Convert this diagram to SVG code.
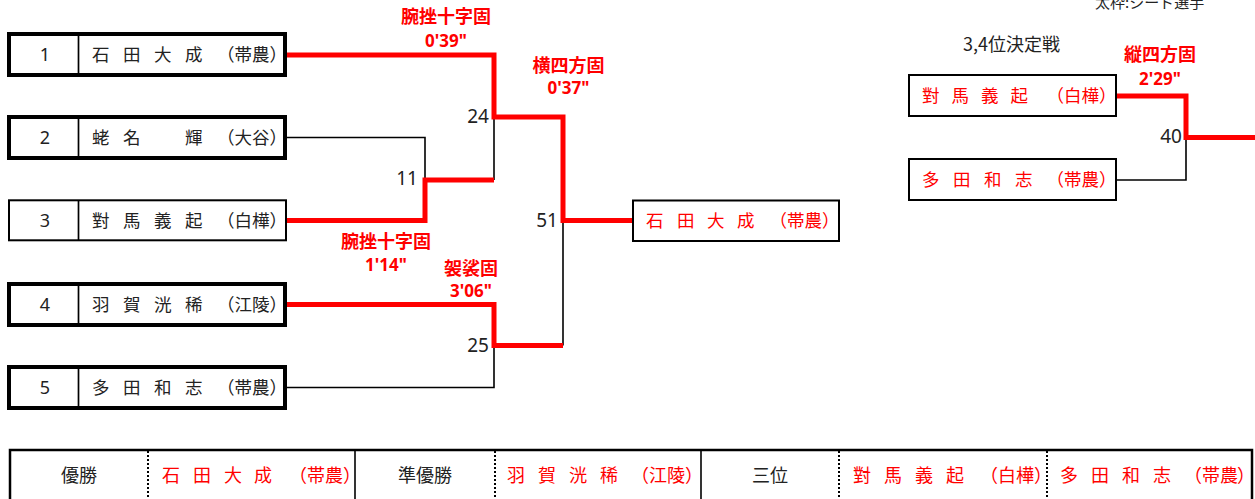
<svg xmlns="http://www.w3.org/2000/svg" width="1255" height="499" viewBox="0 0 1255 499">
<style>
text{font-family:"Noto Sans CJK JP","Noto Sans",sans-serif;}
.bg{fill:#fff;}
.thick{fill:#fff;stroke:#000;stroke-width:4;}
.thin{fill:#fff;stroke:#000;stroke-width:2;}
.div{stroke:#000;stroke-width:1.7;}
.nm{font-size:17.5px;fill:#222;}
.nmr{font-size:17.5px;fill:#ff0000;}
.num{font-size:18px;fill:#222;text-anchor:middle;font-family:"Noto Sans","Liberation Sans",sans-serif;}
.mn{font-size:19px;fill:#222;text-anchor:end;font-family:"Noto Sans","Liberation Sans",sans-serif;}
.lab{font-size:18px;fill:#ff0000;font-weight:bold;text-anchor:middle;}
.tm{font-size:17px;fill:#ff0000;font-weight:bold;text-anchor:middle;font-family:"Noto Sans","Liberation Sans",sans-serif;}
.win{fill:none;stroke:#ff0000;stroke-width:5;stroke-linejoin:miter;}
.los{fill:none;stroke:#000;stroke-width:1.6;}
.tb{font-size:18px;fill:#222;text-anchor:middle;}
.tbr{font-size:18px;fill:#ff0000;}
.dot{stroke:#000;stroke-width:2;stroke-dasharray:2 2;}
.sol{stroke:#000;stroke-width:1.6;}
</style>
<rect class="bg" x="0" y="0" width="1255" height="499"/>

<g id="legend"><text x="1095" y="7.5" style="font-size:15px;fill:#222;">太枠:シード選手</text></g>

<g id="connectors">
<path class="los" d="M287,137.5 H425 V180"/>
<path class="los" d="M494,117 V180"/>
<path class="los" d="M287,387.5 H494 V345.5"/>
<path class="los" d="M563,220.5 V345.5"/>
<path class="los" d="M1117,180 H1186 V137.5"/>
<path class="win" d="M287,55 H494 V117 H563 V220.5 H632"/>
<path class="win" d="M287,220.5 H425 V180 H494"/>
<path class="win" d="M287,304.5 H494 V345.5 H563"/>
<path class="win" d="M1117,96 H1186 V137.5 H1255"/>
</g>

<g id="p1">
<rect class="thick" x="9" y="34" width="276" height="41"/>
<line class="div" x1="78.5" y1="34" x2="78.5" y2="75"/>
<text class="num" x="45" y="61">1</text>
<text class="nm" x="92 123 154 185 217 234.5 252 269.5" y="60.5">石田大成（帯農）</text>
</g>
<g id="p2">
<rect class="thick" x="9" y="117" width="276" height="41"/>
<line class="div" x1="78.5" y1="117" x2="78.5" y2="158"/>
<text class="num" x="45" y="144">2</text>
<text class="nm" x="92 123 185 217 234.5 252 269.5" y="143.5">蛯名輝（大谷）</text>
</g>
<g id="p3">
<rect class="thin" x="9" y="200.3" width="277" height="40"/>
<line class="div" x1="78.5" y1="200.3" x2="78.5" y2="240.3"/>
<text class="num" x="45" y="227">3</text>
<text class="nm" x="92 123 154 185 217 234.5 252 269.5" y="226.5">對馬義起（白樺）</text>
</g>
<g id="p4">
<rect class="thick" x="9" y="284" width="276" height="41"/>
<line class="div" x1="78.5" y1="284" x2="78.5" y2="325"/>
<text class="num" x="45" y="311">4</text>
<text class="nm" x="92 123 154 185 217 234.5 252 269.5" y="310.5">羽賀洸稀（江陵）</text>
</g>
<g id="p5">
<rect class="thick" x="9" y="367" width="276" height="41"/>
<line class="div" x1="78.5" y1="367" x2="78.5" y2="408"/>
<text class="num" x="45" y="394">5</text>
<text class="nm" x="92 123 154 185 217 234.5 252 269.5" y="393.5">多田和志（帯農）</text>
</g>

<g id="m11"><text class="mn" x="418" y="185">11</text></g>
<g id="m24"><text class="mn" x="489" y="123">24</text></g>
<g id="m25"><text class="mn" x="489" y="352">25</text></g>
<g id="m51"><text class="mn" x="558" y="227">51</text></g>
<g id="m40"><text class="mn" x="1182" y="143">40</text></g>

<g id="lab24"><text class="lab" x="446" y="23">腕挫十字固</text><text class="tm" x="446" y="47">0'39"</text></g>
<g id="lab51"><text class="lab" x="568.5" y="72">横四方固</text><text class="tm" x="568.5" y="94">0'37"</text></g>
<g id="lab11"><text class="lab" x="386" y="248">腕挫十字固</text><text class="tm" x="386" y="271">1'14"</text></g>
<g id="lab25"><text class="lab" x="471" y="275">袈裟固</text><text class="tm" x="471" y="297">3'06"</text></g>
<g id="lab40"><text class="lab" x="1160" y="61">縦四方固</text><text class="tm" x="1160" y="85">2'29"</text></g>

<g id="champion">
<rect class="thin" x="633" y="200.5" width="206" height="40.5"/>
<text class="nmr" x="646 677 707 737 769.5 787 804.5 822" y="226.5">石田大成（帯農）</text>
</g>

<g id="third-title"><text x="963" y="51" style="font-size:18px;fill:#222;">3,4位決定戦</text></g>
<g id="t1">
<rect class="thin" x="909" y="75" width="207" height="41"/>
<text class="nmr" x="922 951.5 981 1010.5 1046.5 1064 1081.5 1099" y="101.5">對馬義起（白樺）</text>
</g>
<g id="t2">
<rect class="thin" x="909" y="159" width="207" height="41"/>
<text class="nmr" x="922 953 984 1015 1046.5 1064 1081.5 1099" y="185.5">多田和志（帯農）</text>
</g>

<g id="results">
<rect x="10" y="450" width="1242" height="70" fill="none" stroke="#000" stroke-width="2.5"/>
<line class="sol" x1="355" y1="450" x2="355" y2="499"/>
<line class="sol" x1="701" y1="450" x2="701" y2="499"/>
<line class="dot" x1="148" y1="451" x2="148" y2="499"/>
<line class="dot" x1="495" y1="451" x2="495" y2="499"/>
<line class="dot" x1="839" y1="451" x2="839" y2="499"/>
<line class="dot" x1="1047" y1="451" x2="1047" y2="499"/>
<text class="tb" x="79" y="481.5">優勝</text>
<text class="tbr" x="162 193 224 254 289 307 325 343" y="481.5">石田大成（帯農）</text>
<text class="tb" x="425" y="481.5">準優勝</text>
<text class="tbr" x="507 538 569 600 631 649 667 685" y="481.5">羽賀洸稀（江陵）</text>
<text class="tb" x="770" y="481.5">三位</text>
<text class="tbr" x="853 884 915 946 980 998 1016 1034" y="481.5">對馬義起（白樺）</text>
<text class="tbr" x="1060 1091 1122 1153 1184 1202 1220 1237" y="481.5">多田和志（帯農）</text>
</g>
</svg>
